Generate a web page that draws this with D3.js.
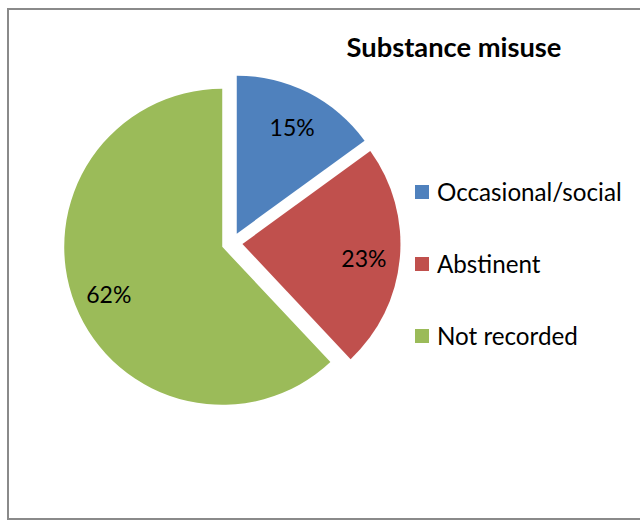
<!DOCTYPE html>
<html><head><meta charset="utf-8">
<script src="https://cdn.jsdelivr.net/npm/d3@7"></script>
<style>html,body{margin:0;padding:0;background:#fff;}svg{display:block;}</style>
</head><body>
<script>
const categories = ["Occasional/social", "Abstinent", "Not recorded"];
const values = [15, 23, 62];
const labels = ["15%", "23%", "62%"];
const colors = ["#4F81BD", "#C0504D", "#9BBB59"];
const title = "Substance misuse";

const W = 640, H = 523;
const svg = d3.select("body").append("svg").attr("width", W).attr("height", H);
const FONT = "Lato, 'Open Sans', sans-serif";

svg.append("rect").attr("x", 8).attr("y", 9).attr("width", 640).attr("height", 510)
  .attr("fill", "#fff").attr("stroke", "#8a8a8a").attr("stroke-width", 2);

svg.append("text").attr("x", 454).attr("y", 57).attr("text-anchor", "middle")
  .attr("font-family", FONT).attr("font-weight", "bold").attr("font-size", 27.3)
  .attr("fill", "#000").text(title);

const cx = 232, cy = 243, R = 158, explode = 10.5, labelR = 122;
const pie = d3.pie().sort(null).value(d => d).startAngle(0).endAngle(2 * Math.PI);
const arcs = pie(values);
const arc = d3.arc().innerRadius(0).outerRadius(R);
const g = svg.append("g").attr("transform", `translate(${cx},${cy})`);

arcs.forEach((a, i) => {
  const mid = (a.startAngle + a.endAngle) / 2;
  const dx = Math.sin(mid) * explode, dy = -Math.cos(mid) * explode;
  const sg = g.append("g").attr("transform", `translate(${dx},${dy})`);
  sg.append("path").attr("d", arc(a)).attr("fill", colors[i]);
  sg.append("text")
    .attr("x", Math.sin(mid) * labelR).attr("y", -Math.cos(mid) * labelR)
    .attr("dy", "0.48em").attr("text-anchor", "middle")
    .attr("font-family", FONT).attr("font-size", 23).attr("fill", "#000")
    .text(labels[i]);
});

const legend = svg.append("g");
const ly = d3.scalePoint().domain(categories).range([192, 336]);
categories.forEach((c, i) => {
  legend.append("rect").attr("x", 415).attr("y", ly(c) - 7).attr("width", 14).attr("height", 14)
    .attr("fill", colors[i]);
  legend.append("text").attr("x", 437).attr("y", ly(c)).attr("dy", "0.36em")
    .attr("font-family", FONT).attr("font-size", 24.2).attr("fill", "#000").text(c);
});
</script>
</body></html>
